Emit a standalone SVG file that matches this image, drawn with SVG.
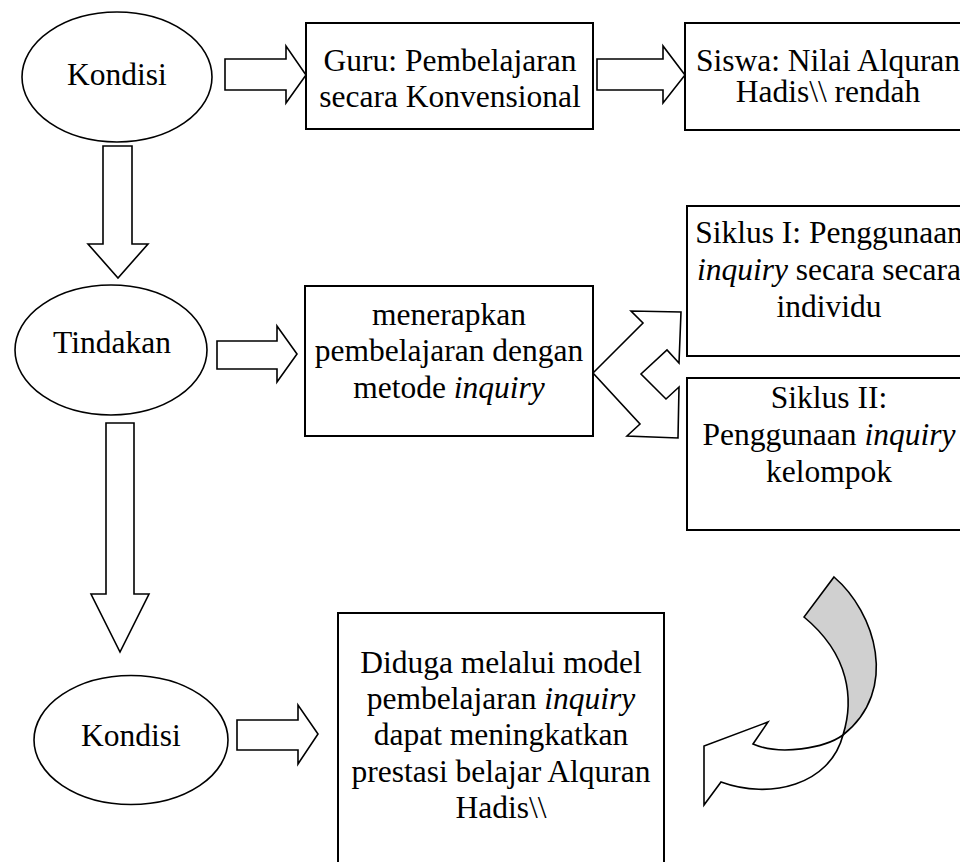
<svg xmlns="http://www.w3.org/2000/svg" width="960" height="862" viewBox="0 0 960 862">
<style>
.t{font-family:"Liberation Serif","Times New Roman",serif;font-size:31.5px;fill:#000;text-anchor:middle}
.i{font-style:italic}
.box{fill:#fff;stroke:#000;stroke-width:2}
.el{fill:#fff;stroke:#000;stroke-width:1.6}
.ar{fill:#fff;stroke:#000;stroke-width:1.6;stroke-linejoin:miter}
</style>
<rect width="960" height="862" fill="#fff"/>
<g id="connectors">
<polygon class="ar" points="225,59 286,59 286,46 306,75 286,103 286,90 225,90"/>
<polygon class="ar" points="597,59 663,59 663,46 685,75 663,103 663,90 597,90"/>
<polygon class="ar" points="103,146 132,146 132,244 148,244 118,278 88,244 103,244"/>
<polygon class="ar" points="217,341 277,341 277,326 297,354 277,382 277,369 217,369"/>
<polygon class="ar" points="106,423 134,423 134,594 149,594 120,652 91,594 106,594"/>
<polygon class="ar" points="237,720 298,720 298,705 318,734 298,764 298,750 237,750"/>
<polygon class="ar" points="593,373 643,323 631,311 681,312 679,363 667,350 641,374 666,399 679,387 678,438 627,436 640,424"/>
<path d="M834,577 C875,612 900,690 843,735 C854,700 850,655 804,617 Z" fill="#d0d0d0" stroke="#000" stroke-width="1.6" stroke-linejoin="miter"/>
<path d="M843,735 C825,748 780,756 753,744 L768,722 L704,746 L704,805 L721,782 C770,800 830,785 843,735 Z" fill="#fff" stroke="#000" stroke-width="1.6" stroke-linejoin="miter"/>
</g>
<g id="kondisi1">
<ellipse class="el" cx="117" cy="77" rx="95" ry="65"/>
<text class="t" x="117" y="85">Kondisi</text>
</g>
<g id="guru">
<rect class="box" x="306" y="23" width="287" height="106"/>
<text class="t" x="450" y="71">Guru: Pembelajaran</text>
<text class="t" x="450" y="107">secara Konvensional</text>
</g>
<g id="siswa">
<rect class="box" x="685" y="23" width="286" height="107"/>
<text class="t" x="828" y="71">Siswa: Nilai Alquran</text>
<text class="t" x="828" y="102">Hadis\\ rendah</text>
</g>
<g id="tindakan">
<ellipse class="el" cx="111" cy="350" rx="96" ry="65"/>
<text class="t" x="112" y="353">Tindakan</text>
</g>
<g id="menerapkan">
<rect class="box" x="305" y="286" width="288" height="150"/>
<text class="t" x="449" y="325">menerapkan</text>
<text class="t" x="449" y="361">pembelajaran dengan</text>
<text class="t" x="449" y="398">metode <tspan class="i">inquiry</tspan></text>
</g>
<g id="siklus1">
<rect class="box" x="687" y="206" width="284" height="150"/>
<text class="t" x="829" y="243">Siklus I: Penggunaan</text>
<text class="t" x="829" y="280"><tspan class="i">inquiry</tspan> secara secara</text>
<text class="t" x="829" y="317">individu</text>
</g>
<g id="siklus2">
<rect class="box" x="687" y="378" width="284" height="152"/>
<text class="t" x="829" y="408">Siklus II:</text>
<text class="t" x="829" y="445">Penggunaan <tspan class="i">inquiry</tspan></text>
<text class="t" x="829" y="482">kelompok</text>
</g>
<g id="kondisi2">
<ellipse class="el" cx="131" cy="740" rx="97" ry="64.5"/>
<text class="t" x="131" y="746">Kondisi</text>
</g>
<g id="diduga">
<rect class="box" x="338" y="613" width="326" height="260"/>
<text class="t" x="501" y="673">Diduga melalui model</text>
<text class="t" x="501" y="709">pembelajaran <tspan class="i">inquiry</tspan></text>
<text class="t" x="501" y="745">dapat meningkatkan</text>
<text class="t" x="501" y="782">prestasi belajar Alquran</text>
<text class="t" x="501" y="818">Hadis\\</text>
</g>
</svg>
